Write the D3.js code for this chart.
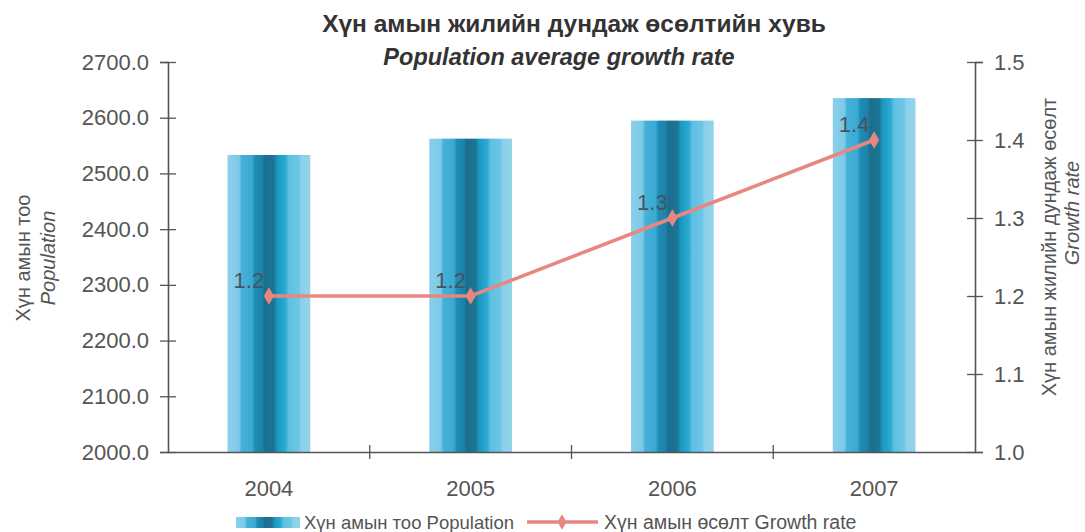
<!DOCTYPE html>
<html>
<head>
<meta charset="utf-8">
<script src="https://cdn.jsdelivr.net/npm/d3@7"></script>
<style>
  body { margin: 0; background: #fff; }
  text { font-family: 'Liberation Sans', Arial, sans-serif; }
</style>
</head>
<body>
<div id="chart"></div>
<script>
// data
const years = ['2004', '2005', '2006', '2007']
const population = [2533.1, 2562.4, 2594.8, 2635.2]
const growthRate = [1.2, 1.2, 1.3, 1.4]
const leftTicks = [2000, 2100, 2200, 2300, 2400, 2500, 2600, 2700]
const rightTicks = [1.0, 1.1, 1.2, 1.3, 1.4, 1.5]

const width = 1085
const height = 532
const margin = { top: 62, right: 110, bottom: 80, left: 168 }

const svg = d3.select('#chart').append('svg')
  .attr('width', width)
  .attr('height', height)

// bar gradient: light edges, dark teal core
const defs = svg.append('defs')
const grad = defs.append('linearGradient')
  .attr('id', 'barGrad')
  .attr('x1', '0%').attr('x2', '100%')
  .attr('y1', '0%').attr('y2', '0%')
const stops = [
  [0, '#8ccfea'], [0.14, '#7ccae8'], [0.17, '#46b1d8'], [0.3, '#3aa9d2'],
  [0.33, '#1f8db5'], [0.42, '#1c82a8'], [0.45, '#1b6f8e'], [0.56, '#1d7494'],
  [0.6, '#1a98c0'], [0.7, '#2aaad3'], [0.74, '#5ec0e3'], [0.86, '#6cc6e6'],
  [0.89, '#8dd0ea'], [1, '#93d3eb']
]
stops.forEach(s => grad.append('stop').attr('offset', s[0]).attr('stop-color', s[1]))

const xScale = d3.scaleBand()
  .domain(years)
  .range([margin.left, width - margin.right])
  .paddingInner(0)
  .paddingOuter(0)

const yLeft = d3.scaleLinear()
  .domain([2000, 2700])
  .range([height - margin.bottom, margin.top])

const yRight = d3.scaleLinear()
  .domain([1.0, 1.5])
  .range([height - margin.bottom, margin.top])

const barW = xScale.bandwidth() * 0.41

// bars
svg.append('g').selectAll('rect')
  .data(years)
  .enter()
  .append('rect')
  .attr('x', (d) => xScale(d) + xScale.bandwidth() / 2 - barW / 2)
  .attr('y', (d, i) => yLeft(population[i]))
  .attr('width', barW)
  .attr('height', (d, i) => yLeft(2000) - yLeft(population[i]))
  .attr('fill', 'url(#barGrad)')

// axes
const axisColor = '#555'
const font = "'Liberation Sans', Arial, sans-serif"
const leftAxis = svg.append('g')
  .attr('transform', `translate(${margin.left},0)`)
  .call(d3.axisLeft(yLeft).tickValues(leftTicks).tickFormat(d3.format('.1f')).tickSize(8))
leftAxis.selectAll('.tick line').attr('x2', 8).attr('x1', -8)

const rightAxis = svg.append('g')
  .attr('transform', `translate(${width - margin.right},0)`)
  .call(d3.axisRight(yRight).tickValues(rightTicks).tickFormat(d3.format('.1f')).tickSize(8))
rightAxis.selectAll('.tick line').attr('x1', -8).attr('x2', 8)

const xAxis = svg.append('g')
  .attr('transform', `translate(0,${height - margin.bottom})`)
  .call(d3.axisBottom(xScale).tickSize(0).tickPadding(28))
// boundary tick marks between categories
xAxis.selectAll('.bnd')
  .data(years.slice(1))
  .enter()
  .append('line')
  .attr('x1', d => xScale(d)).attr('x2', d => xScale(d))
  .attr('y1', -7).attr('y2', 7)
  .attr('stroke', axisColor)

;[leftAxis, rightAxis, xAxis].forEach(ax => {
  ax.selectAll('path.domain').attr('stroke', axisColor).attr('stroke-width', 1.6)
  ax.selectAll('.tick line').attr('stroke', axisColor).attr('stroke-width', 1.3)
  ax.selectAll('line').attr('stroke-width', 1.3)
  ax.selectAll('text')
    .attr('fill', '#555')
    .style('font-size', '22px')
    .style('font-family', font)
})
leftAxis.selectAll('.tick text').attr('x', -19)
rightAxis.selectAll('.tick text').attr('x', 19)

// growth rate line
const cx = d => xScale(d) + xScale.bandwidth() / 2
const line = d3.line()
  .x(d => cx(d.year))
  .y(d => yRight(d.rate))
const lineData = years.map((y, i) => ({ year: y, rate: growthRate[i] }))

svg.append('path')
  .datum(lineData)
  .attr('d', line)
  .attr('fill', 'none')
  .attr('stroke', '#e8877f')
  .attr('stroke-width', 3.5)

svg.append('g').selectAll('path')
  .data(lineData)
  .enter()
  .append('path')
  .attr('d', d3.symbol(d3.symbolDiamond, 90))
  .attr('transform', d => `translate(${cx(d.year)},${yRight(d.rate)})`)
  .attr('fill', '#e8877f')

svg.append('g').selectAll('text')
  .data(lineData)
  .enter()
  .append('text')
  .attr('x', d => cx(d.year) - 20)
  .attr('y', d => yRight(d.rate) - 8)
  .attr('text-anchor', 'middle')
  .attr('fill', '#46545e')
  .style('font-size', '22px')
  .text(d => d.rate.toFixed(1))

// titles
svg.append('text')
  .attr('x', 574).attr('y', 32)
  .attr('text-anchor', 'middle')
  .attr('fill', '#333')
  .style('font-size', '24.5px')
  .style('font-weight', 'bold')
  .text('Хүн амын жилийн дундаж өсөлтийн хувь')
svg.append('text')
  .attr('x', 559).attr('y', 65)
  .attr('text-anchor', 'middle')
  .attr('fill', '#333')
  .style('font-size', '23.5px')
  .style('font-weight', 'bold')
  .style('font-style', 'italic')
  .text('Population average growth rate')

// axis titles
svg.append('text')
  .attr('transform', 'translate(30,258) rotate(-90)')
  .attr('text-anchor', 'middle')
  .attr('fill', '#555')
  .style('font-size', '20px')
  .text('Хүн амын тоо')
svg.append('text')
  .attr('transform', 'translate(55,258) rotate(-90)')
  .attr('text-anchor', 'middle')
  .attr('fill', '#555')
  .style('font-size', '20px')
  .style('font-style', 'italic')
  .text('Population')

svg.append('text')
  .attr('transform', 'translate(1056,247) rotate(-90)')
  .attr('text-anchor', 'middle')
  .attr('fill', '#555')
  .style('font-size', '20px')
  .text('Хүн амын жилийн дундаж өсөлт')
svg.append('text')
  .attr('transform', 'translate(1079,213) rotate(-90)')
  .attr('text-anchor', 'middle')
  .attr('fill', '#555')
  .style('font-size', '20px')
  .style('font-style', 'italic')
  .text('Growth rate')

// legend
const legend = svg.append('g').attr('transform', 'translate(0,522)')
legend.append('rect')
  .attr('x', 236).attr('y', -5)
  .attr('width', 64).attr('height', 11)
  .attr('fill', 'url(#barGrad)')
legend.append('text')
  .attr('x', 304).attr('y', 7)
  .attr('fill', '#555')
  .style('font-size', '18.5px')
  .text('Хүн амын тоо Population')
legend.append('line')
  .attr('x1', 527).attr('x2', 598)
  .attr('y1', 0).attr('y2', 0)
  .attr('stroke', '#e8877f').attr('stroke-width', 3.5)
legend.append('path')
  .attr('d', d3.symbol(d3.symbolDiamond, 70))
  .attr('transform', 'translate(562,0)')
  .attr('fill', '#e8877f')
legend.append('text')
  .attr('x', 604).attr('y', 7)
  .attr('fill', '#555')
  .style('font-size', '19.5px')
  .text('Хүн амын өсөлт Growth rate')
</script>
</body>
</html>
